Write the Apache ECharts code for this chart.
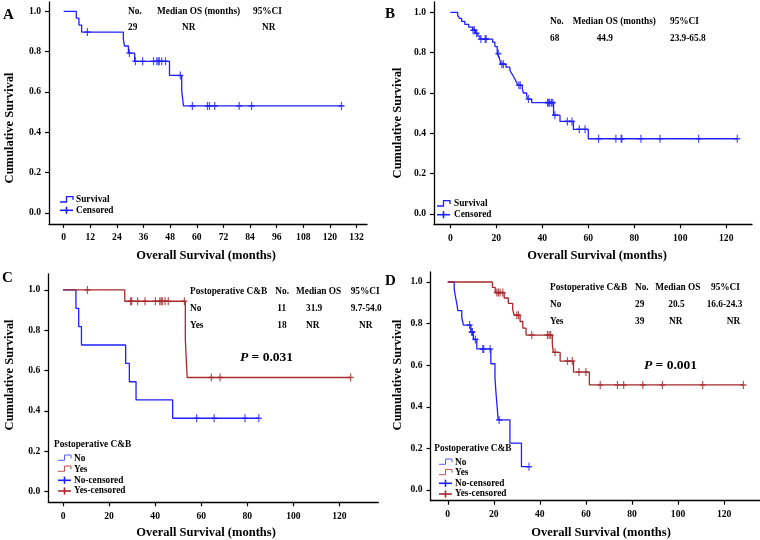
<!DOCTYPE html>
<html>
<head>
<meta charset="utf-8">
<script src="https://cdn.jsdelivr.net/npm/echarts@6/dist/echarts.min.js"></script>
<style>body{margin:0;background:#fff;}</style>
</head>
<body>
<div id="chart-main" style="width:760px;height:540px;"></div>
<script type="text/javascript">
// ---- data (months, cumulative survival) ----
// A: all 29 patients
var aStepT = [0, 5.7, 6.9, 8.1, 26.9, 27.4, 29.2, 32.0, 47.7, 53.2, 54.0, 125.2];
var aStepS = [1, 0.966, 0.931, 0.897, 0.862, 0.828, 0.793, 0.752, 0.682, 0.607, 0.531, 0.531];
var aCensor = [10.7, 29.6, 32.3, 35.6, 40.5, 42.0, 42.6, 43.1, 44.2, 45.9, 52.6, 58.0, 64.8, 65.7, 68.1, 79.1, 84.7, 125.2];

// B: all 68 patients
var bStepT = [0, 3.2, 4.0, 4.9, 6.3, 8.0, 9.7, 11.0, 12.0, 12.9, 18.4, 19.4, 20.4, 21.2, 21.6, 22.0, 24.2, 25.9, 26.6, 27.4, 28.1, 28.8, 29.4, 31.3, 31.8, 33.2, 33.7, 35.4, 44.9, 47.7, 53.5, 60.0, 124.8];
var bStepS = [1, 0.985, 0.970, 0.955, 0.940, 0.926, 0.911, 0.896, 0.882, 0.867, 0.852, 0.830, 0.795, 0.778, 0.760, 0.743, 0.728, 0.713, 0.698, 0.683, 0.668, 0.653, 0.638, 0.620, 0.600, 0.585, 0.570, 0.552, 0.490, 0.459, 0.420, 0.373, 0.373];
var bCensor = [9.9, 10.5, 11.4, 13.3, 15.2, 15.6, 20.9, 22.4, 23.1, 29.8, 30.4, 34.0, 42.3, 42.8, 43.2, 44.0, 44.6, 45.5, 50.9, 52.9, 56.1, 58.6, 64.5, 72.0, 74.3, 74.6, 82.9, 91.2, 108.0, 124.8];

// C: postoperative C&B, 29 patients
var cNoT = [0, 5.6, 6.8, 8.0, 27.2, 28.8, 31.7, 47.6, 85.0];
var cNoS = [1, 0.909, 0.818, 0.727, 0.636, 0.545, 0.455, 0.364, 0.364];
var cNoCensor = [58.0, 65.6, 79.0, 85.0];
var cYesT = [0, 26.8, 53.1, 53.9, 124.9];
var cYesS = [1, 0.944, 0.755, 0.566, 0.566];
var cYesCensor = [10.6, 29.3, 29.8, 32.4, 35.6, 40.1, 42.0, 42.6, 43.1, 44.3, 45.7, 52.7, 64.4, 68.2, 124.9];

// D: postoperative C&B, 68 patients
var dNoT = [0, 2.8, 3.3, 3.9, 4.4, 6.1, 6.8, 10.0, 11.1, 12.6, 18.7, 20.5, 20.9, 21.4, 21.9, 27.0, 32.0, 35.3];
var dNoS = [1, 0.966, 0.931, 0.897, 0.862, 0.828, 0.793, 0.759, 0.724, 0.678, 0.607, 0.540, 0.472, 0.405, 0.337, 0.225, 0.112, 0.112];
var dNoCensor = [9.5, 10.4, 10.7, 12.0, 15.2, 15.6, 18.4, 22.3, 35.3];
var dYesT = [0, 19.4, 20.6, 24.5, 26.3, 28.2, 28.8, 31.4, 32.6, 34.0, 45.4, 45.8, 48.8, 54.6, 61.5, 128.4];
var dYesS = [1, 0.974, 0.949, 0.923, 0.897, 0.868, 0.840, 0.810, 0.778, 0.745, 0.704, 0.662, 0.620, 0.567, 0.505, 0.505];
var dYesCensor = [21.3, 22.0, 22.7, 23.9, 30.0, 30.7, 36.5, 43.3, 44.0, 44.7, 46.6, 52.0, 54.1, 57.0, 60.0, 66.2, 73.7, 76.4, 84.7, 93.2, 110.7, 128.4];

// tick labels
var ticksA = [0, 12, 24, 36, 48, 60, 72, 84, 96, 108, 120, 132];
var ticks20 = [0, 20, 40, 60, 80, 100, 120];
var yTicks = [0, 0.2, 0.4, 0.6, 0.8, 1.0];

var SERIF = '"Liberation Serif", "DejaVu Serif", serif';
var BLUE = '#1f1fff';
var RED = '#a8282c';
var PLUS = 'path://M2,0 L3,0 L3,2 L5,2 L5,3 L3,3 L3,5 L2,5 L2,3 L0,3 L0,2 L2,2 Z';

function kmLine(idx, t, s, color) {
	return {
		type: 'line', xAxisIndex: idx, yAxisIndex: idx, step: 'end',
		showSymbol: false, silent: true, animation: false,
		data: t.map(function (v, i) { return [v, s[i]]; }),
		lineStyle: { color: color, width: 1.3 }, itemStyle: { color: color }
	};
}
// censored marks sit on the curve: take the level of the last step before them
function kmCensor(idx, ct, t, s, color) {
	return {
		type: 'scatter', xAxisIndex: idx, yAxisIndex: idx, silent: true, animation: false,
		symbol: PLUS, symbolSize: [6, 8], z: 3,
		itemStyle: { color: color },
		data: ct.map(function (v) {
			var k = 0;
			for (var i = 0; i < t.length; i++) { if (t[i] <= v) k = i; }
			return [v, s[k]];
		})
	};
}
function xAx(idx, min, max, ticks) {
	return {
		gridIndex: idx, type: 'value', min: min, max: max,
		axisLine: { show: true, onZero: false, lineStyle: { color: '#000', width: 1.3 } },
		axisTick: { show: true, inside: false, length: 4, customValues: ticks, lineStyle: { color: '#000', width: 1.2 } },
		axisLabel: { customValues: ticks, margin: 9, color: '#000', fontFamily: SERIF, fontWeight: 'bold', fontSize: 9.6 },
		splitLine: { show: false }
	};
}
function yAx(idx, min, max) {
	return {
		gridIndex: idx, type: 'value', min: min, max: max,
		axisLine: { show: true, onZero: false, lineStyle: { color: '#000', width: 1.3 } },
		axisTick: { show: true, inside: false, length: 4, customValues: yTicks, lineStyle: { color: '#000', width: 1.2 } },
		axisLabel: { customValues: yTicks, margin: 8, color: '#000', fontFamily: SERIF, fontWeight: 'bold', fontSize: 9.6,
			formatter: function (v) { return v.toFixed(1); } },
		splitLine: { show: false }
	};
}
function txt(x, y, s, size, align, extra) {
	var st = { text: s, fontSize: size, fontWeight: 'bold', fontFamily: SERIF, fill: '#000',
		textAlign: align || 'left', align: align || 'left', textVerticalAlign: 'middle', verticalAlign: 'middle' };
	if (extra) { for (var k in extra) st[k] = extra[k]; }
	return { type: 'text', x: x, y: y, z: 10, style: st };
}
function vtxt(x, y, s) {
	return { type: 'text', x: x, y: y, rotation: Math.PI / 2, z: 10,
		style: { text: s, fontSize: 12.5, fontWeight: 'bold', fontFamily: SERIF, fill: '#000',
			textAlign: 'center', align: 'center', textVerticalAlign: 'middle', verticalAlign: 'middle' } };
}
function legStep(x, y, color, w) {
	return { type: 'polyline', z: 10, shape: { points: [[x, y + 2], [x + 6.5, y + 2], [x + 6.5, y - 3.3], [x + 13, y - 3.3], [x + 13, y]] },
		style: { stroke: color, fill: null, lineWidth: w } };
}
function legPlus(x, y, color) {
	return [
		{ type: 'line', z: 10, shape: { x1: x, y1: y, x2: x + 13, y2: y }, style: { stroke: color, lineWidth: 1.6 } },
		{ type: 'line', z: 10, shape: { x1: x + 6.5, y1: y - 3.6, x2: x + 6.5, y2: y + 3.6 }, style: { stroke: color, lineWidth: 1.6 } }
	];
}

var graphics = [
	// panel letters
	txt(3, 15, 'A', 15), txt(385, 14.5, 'B', 15), txt(2, 278.5, 'C', 15), txt(385, 281, 'D', 15),
	// axis titles
	vtxt(10, 128, 'Cumulative Survival'), vtxt(398, 123, 'Cumulative Survival'),
	vtxt(10, 375, 'Cumulative Survival'), vtxt(398, 375, 'Cumulative Survival'),
	txt(206, 256, 'Overall Survival (months)', 12.5, 'center'), txt(597, 256, 'Overall Survival (months)', 12.5, 'center'),
	txt(206, 533, 'Overall Survival (months)', 12.5, 'center'), txt(601, 533, 'Overall Survival (months)', 12.5, 'center'),
	// A table
	txt(128, 11.3, 'No.', 9.3), txt(157, 11.3, 'Median OS (months)', 9.3), txt(253, 11.3, '95%CI', 9.3),
	txt(128, 28, '29', 9.3), txt(182, 28, 'NR', 9.3), txt(262, 28, 'NR', 9.3),
	// B table
	txt(550, 22, 'No.', 9.3), txt(572.7, 22, 'Median OS (months)', 9.3), txt(670, 22, '95%CI', 9.3),
	txt(550, 38.7, '68', 9.3), txt(596.7, 38.7, '44.9', 9.3), txt(670, 38.7, '23.9-65.8', 9.3),
	// C table
	txt(190, 292, 'Postoperative C&B', 9.3), txt(275.3, 292, 'No.', 9.3), txt(296, 292, 'Median OS', 9.3), txt(350.7, 292, '95%CI', 9.3),
	txt(190, 308.7, 'No', 9.3), txt(277.3, 308.7, '11', 9.3), txt(306, 308.7, '31.9', 9.3), txt(350.7, 308.7, '9.7-54.0', 9.3),
	txt(190, 325.3, 'Yes', 9.3), txt(277.3, 325.3, '18', 9.3), txt(306, 325.3, 'NR', 9.3), txt(359, 325.3, 'NR', 9.3),
	// D table
	txt(550, 287.3, 'Postoperative C&B', 9.3), txt(635, 287.3, 'No.', 9.3), txt(655.3, 287.3, 'Median OS', 9.3), txt(711, 287.3, '95%CI', 9.3),
	txt(550, 304.3, 'No', 9.3), txt(635, 304.3, '29', 9.3), txt(668.3, 304.3, '20.5', 9.3), txt(706.7, 304.3, '16.6-24.3', 9.3),
	txt(550, 321.7, 'Yes', 9.3), txt(635, 321.7, '39', 9.3), txt(669, 321.7, 'NR', 9.3), txt(726.7, 321.7, 'NR', 9.3),
	// p values
	txt(240, 358, '{i|P} = 0.031', 13.5, 'left', { rich: { i: { fontStyle: 'italic', fontWeight: 'bold', fontFamily: SERIF, fontSize: 13.5 } } }),
	txt(644, 365.7, '{i|P} = 0.001', 13.5, 'left', { rich: { i: { fontStyle: 'italic', fontWeight: 'bold', fontFamily: SERIF, fontSize: 13.5 } } }),
	// legends A, B
	legStep(60, 200, BLUE, 1.3), txt(76, 200, 'Survival', 9.3), txt(76, 210.3, 'Censored', 9.3),
	legStep(437, 204, BLUE, 1.3), txt(454, 204, 'Survival', 9.3), txt(454, 214.7, 'Censored', 9.3),
	// legend C
	txt(54, 445, 'Postoperative C&B', 9.3),
	legStep(58, 458.3, '#5a5aff', 1), txt(74, 458.3, 'No', 9.3),
	legStep(58, 469.3, '#c4504f', 1), txt(74, 469.3, 'Yes', 9.3),
	txt(74, 480.3, 'No-censored', 9.3), txt(74, 491, 'Yes-censored', 9.3),
	// legend D
	txt(434.3, 449, 'Postoperative C&B', 9.3),
	legStep(439, 462.3, '#5a5aff', 1), txt(455, 462.3, 'No', 9.3),
	legStep(439, 472.7, '#c4504f', 1), txt(455, 472.7, 'Yes', 9.3),
	txt(455, 483.3, 'No-censored', 9.3), txt(455, 494, 'Yes-censored', 9.3)
];
graphics = graphics.concat(legPlus(60, 210.3, BLUE), legPlus(437, 214.7, BLUE),
	legPlus(58, 480.3, BLUE), legPlus(58, 491, RED), legPlus(439, 483.3, BLUE), legPlus(439, 494, RED));

var myChart = echarts.init(document.getElementById('chart-main'), null, { renderer: 'canvas' });
var option = {
	backgroundColor: '#fff',
	animation: false,
	grid: [
		{ left: 49, top: 2, width: 318, height: 222, containLabel: false, outerBoundsMode: 'none' },
		{ left: 434, top: 2, width: 318, height: 222.3, containLabel: false, outerBoundsMode: 'none' },
		{ left: 48.3, top: 274, width: 330, height: 228.3, containLabel: false, outerBoundsMode: 'none' },
		{ left: 430.5, top: 272, width: 329.5, height: 228.7, containLabel: false, outerBoundsMode: 'none' }
	],
	xAxis: [
		xAx(0, -6.6, 136.7, ticksA),
		xAx(1, -7.1, 131.2, ticks20),
		xAx(2, -6.4, 136.9, ticks20),
		xAx(3, -7.5, 135.6, ticks20)
	],
	yAxis: [
		yAx(0, -0.0545, 1.046),
		yAx(1, -0.051, 1.051),
		yAx(2, -0.0526, 1.079),
		yAx(3, -0.0514, 1.048)
	],
	graphic: graphics,
	series: [
		kmLine(0, aStepT, aStepS, BLUE), kmCensor(0, aCensor, aStepT, aStepS, BLUE),
		kmLine(1, bStepT, bStepS, BLUE), kmCensor(1, bCensor, bStepT, bStepS, BLUE),
		kmLine(2, cNoT, cNoS, BLUE), kmCensor(2, cNoCensor, cNoT, cNoS, BLUE),
		kmLine(2, cYesT, cYesS, RED), kmCensor(2, cYesCensor, cYesT, cYesS, RED),
		kmLine(3, dNoT, dNoS, BLUE), kmCensor(3, dNoCensor, dNoT, dNoS, BLUE),
		kmLine(3, dYesT, dYesS, RED), kmCensor(3, dYesCensor, dYesT, dYesS, RED)
	]
};
myChart.setOption(option);
</script>
</body>
</html>
